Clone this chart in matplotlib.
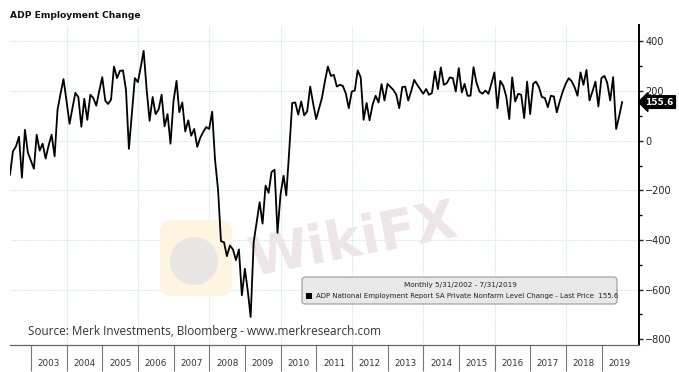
import numpy as np
import pandas as pd
import matplotlib
matplotlib.use("Agg")
import matplotlib.pyplot as plt
import matplotlib.dates as mdates
from matplotlib.patches import FancyBboxPatch, Rectangle, Circle

title = "ADP Employment Change"
source = "Source: Merk Investments, Bloomberg - www.merkresearch.com"
legend_period = "Monthly 5/31/2002 - 7/31/2019"
legend_series = "ADP National Employment Report SA Private Nonfarm Level Change - Last Price  155.6"
last_price = 155.6

# monthly change (thousands), month-end values
adp_2002_2004 = [-137, -43, -23, 16, -149, 44, -48, -80,
                 -113, 24, -40, -12, -72, -20, 24, -63, 125, 190, 248, 160,
                 68, 130, 193, 176, 56, 169, 84, 185, 172, 141, 200, 256]
adp_2005_2007 = [161, 148, 165, 299, 252, 281, 283, 205, -33, 110, 252, 236,
                 300, 362, 205, 80, 176, 107, 125, 185, 58, 107, -12, 160,
                 241, 115, 154, 37, 82, 20, 47, -25, 11, 35, 55, 47]
adp_2008_2010 = [117, -76, -197, -405, -409, -465, -422, -438, -481, -438, -623, -516,
                 -610, -710, -409, -331, -248, -334, -181, -210, -126, -117, -371, -217,
                 -141, -220, -35, 152, 154, 105, 158, 102, 118, 218, 150, 87]
adp_2011_2013 = [131, 172, 240, 299, 261, 265, 218, 225, 221, 190, 131, 198,
                 202, 283, 256, 84, 152, 82, 145, 181, 154, 228, 162, 229,
                 216, 205, 185, 131, 216, 218, 162, 200, 245, 225, 208, 189]
adp_2014_2016 = [208, 185, 192, 279, 208, 295, 225, 232, 255, 252, 198, 292,
                 194, 229, 181, 181, 296, 234, 198, 189, 202, 189, 230, 275,
                 131, 241, 221, 178, 87, 255, 158, 189, 185, 91, 238, 107]
adp_2017_2019 = [229, 238, 216, 176, 172, 135, 181, 178, 114, 160, 198, 230,
                 252, 240, 216, 181, 275, 225, 285, 162, 198, 238, 138, 252,
                 261, 234, 162, 256, 47, 97, last_price]

values = (adp_2002_2004 + adp_2005_2007 + adp_2008_2010 +
          adp_2011_2013 + adp_2014_2016 + adp_2017_2019)
dates = pd.date_range("2002-05-31", periods=len(values), freq="ME")
years = list(range(2003, 2020))

W, H = 679, 372
fig = plt.figure(figsize=(W / 100, H / 100), dpi=100)
ax = fig.add_axes([10 / W, 1 - 345 / H, 629 / W, 320 / H])

grid_col = "#c6e6e6"
for y in range(-600, 401, 200):
    ax.axhline(y, color=grid_col, lw=0.8, ls=(0, (1, 1)), zorder=0)
for yr in range(2004, 2019, 2):
    ax.axvline(pd.Timestamp(f"{yr}-01-01"), color=grid_col, lw=0.8, ls=(0, (1, 1)), zorder=0)

# faint watermark
ax.add_patch(FancyBboxPatch((160, H - 296), 72, 76, boxstyle="round,pad=0,rounding_size=12",
                            transform=None, fc="#fdf5df", ec="none", zorder=0.5))
ax.add_patch(Circle((194, H - 261), 24, transform=None, fc="#e8e5e5", ec="none", zorder=0.6))
ax.text(252, H - 276, "WikiFX", transform=None, fontsize=39, fontweight="bold",
        color="#eee6e6", rotation=11, rotation_mode="anchor", ha="left", va="baseline",
        zorder=0.6)

ax.plot(dates, values, color="black", lw=1.3, zorder=3)

ax.set_xlim(dates[0], pd.Timestamp("2020-01-20"))
ax.set_ylim(-823, 466)

# right-hand value axis
ax.yaxis.tick_right()
ax.set_yticks(range(-800, 401, 200))
ax.set_yticks(range(-700, 401, 200), minor=True)
ax.tick_params(axis="y", which="major", length=3, width=1, direction="out",
               labelsize=7, pad=1.5, colors="#222")
ax.tick_params(axis="y", which="minor", length=2.5, width=1, direction="out")

# year strip
ax.set_xticks([pd.Timestamp(f"{y}-01-01") for y in years])
ax.set_xticks([pd.Timestamp(f"{y}-07-02") for y in years], minor=True)
ax.set_xticklabels([])
ax.set_xticklabels([str(y) for y in years], minor=True)
ax.tick_params(axis="x", which="major", length=19, width=0.8, color="#777", direction="out")
ax.tick_params(axis="x", which="minor", length=0, labelsize=6.3, pad=10, labelcolor="#333")

for s in ["top", "left"]:
    ax.spines[s].set_visible(False)
ax.spines["right"].set_linewidth(1.4)
ax.spines["bottom"].set_color("#666")
ax.spines["bottom"].set_linewidth(0.9)

# last price tag
ax.annotate(f"{last_price:.1f}", xy=(1.0, last_price), xycoords=("axes fraction", "data"),
            xytext=(4.5, 0), textcoords="offset points", ha="left", va="center",
            fontsize=6.5, fontweight="bold", color="white",
            bbox=dict(boxstyle="larrow,pad=0.2", fc="black", ec="black"),
            annotation_clip=False, zorder=5)

fig.text(10 / W, 1 - 15 / H, title, fontsize=6.6, fontweight="bold", va="center", color="#111")
ax.text(28, H - 331, source, transform=None, fontsize=8.5, family="Open Sans",
        color="#333", va="center", zorder=4)

# legend box
ax.add_patch(FancyBboxPatch((302, H - 304), 315, 27, boxstyle="round,pad=0,rounding_size=3",
                            transform=None, fc="#e8e8e8", ec="#999", lw=0.8, zorder=4))
ax.text(460, H - 285, legend_period, transform=None, fontsize=5.2, ha="center",
        va="center", color="#222", zorder=5)
ax.add_patch(Rectangle((306, H - 299), 6, 6, transform=None, fc="black", ec="none", zorder=5))
ax.text(316, H - 296, legend_series, transform=None, fontsize=5.05, ha="left",
        va="center", color="#222", zorder=5)

fig.savefig("out.png", dpi=100)
